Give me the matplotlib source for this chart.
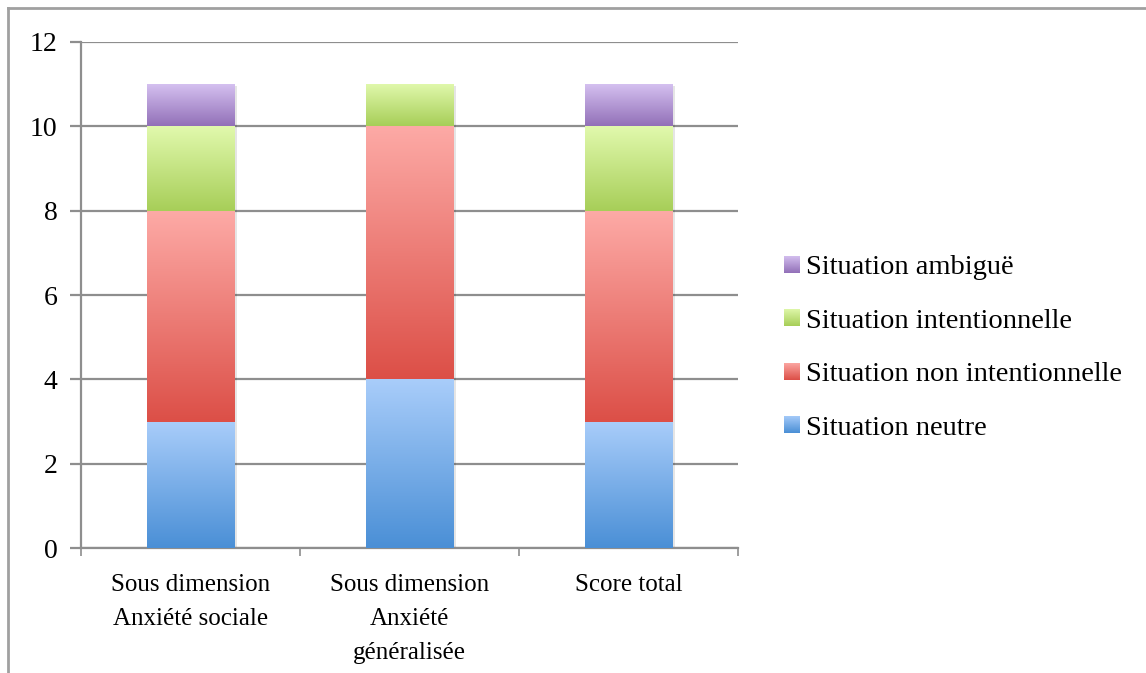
import numpy as np
import matplotlib
matplotlib.use("Agg")
import matplotlib.pyplot as plt
from matplotlib.colors import LinearSegmentedColormap
from matplotlib.patches import Rectangle
from matplotlib.lines import Line2D

categories = ["Sous dimension\nAnxiété sociale", "Sous dimension\nAnxiété\ngénéralisée", "Score total"]
series_names = ["Situation neutre", "Situation non intentionnelle", "Situation intentionnelle", "Situation ambiguë"]
neutre = [3, 4, 3]
non_intentionnelle = [5, 6, 5]
intentionnelle = [2, 1, 2]
ambigue = [1, 0, 1]
yticks = [0, 2, 4, 6, 8, 10, 12]

series = [neutre, non_intentionnelle, intentionnelle, ambigue]
grad = [("#a9cdfa", "#4a8fd6"), ("#fdaaa6", "#dc4f47"), ("#e1f9ad", "#a7ce58"), ("#d6c2f1", "#9270b8")]

plt.rcParams['font.family'] = ['Liberation Serif', 'DejaVu Serif']
fig = plt.figure(figsize=(11.46, 6.73), dpi=100)
ax = fig.add_axes([0.0707, 0.1857, 0.5733, 0.7519])

x = np.arange(len(categories))
width = 0.40
bottom = np.zeros(len(categories))
grid_c = "#8e8e8e"
for vals, (ctop, cbot), name in zip(series, grad, series_names):
    bars = ax.bar(x, vals, width, bottom=bottom, color="none", edgecolor="none", zorder=3, label=name)
    cmap = LinearSegmentedColormap.from_list(name, [cbot, ctop])
    for b in bars:
        h = b.get_height()
        if h <= 0:
            continue
        x0, y0 = b.get_x(), b.get_y()
        w = b.get_width()
        sh = Rectangle((x0 + 0.014, y0 - 0.05), w, h, facecolor="#000000", alpha=0.10, edgecolor="none", zorder=2)
        ax.add_patch(sh)
        img = np.linspace(0, 1, 256).reshape(-1, 1)
        im = ax.imshow(img, cmap=cmap, origin="lower", aspect="auto",
                       extent=(x0, x0 + w, y0, y0 + h), zorder=3)
        im.set_clip_path(b)
    bottom = bottom + np.array(vals)

ax.set_xlim(-0.5, len(categories) - 0.5)
ax.set_ylim(0, 12)
ax.set_yticks(yticks)
ax.yaxis.grid(True, color=grid_c, linewidth=1.6, zorder=0)
ax.set_axisbelow(True)
ax.set_xticks(x)
ax.set_xticklabels(categories, fontsize=18, linespacing=1.68)
ax.set_xticks([-0.5, 0.5, 1.5, 2.5], minor=True)
ax.tick_params(axis="x", which="major", length=0, pad=19)
ax.tick_params(axis="x", which="minor", length=6, width=1.2, color=grid_c, direction="out")
ax.tick_params(axis="y", length=8, width=1.6, color=grid_c, labelsize=20, pad=9)
for s in ["top", "right"]:
    ax.spines[s].set_visible(False)
for s in ["left", "bottom"]:
    ax.spines[s].set_color(grid_c)
    ax.spines[s].set_linewidth(1.6)

handles = []
for (ctop, cbot), name in zip(grad, series_names):
    handles.append(Rectangle((0, 0), 1, 1, facecolor=cbot, edgecolor="none"))
leg = fig.legend(handles[::-1], series_names[::-1], loc="center left",
                 bbox_to_anchor=(0.6615, 0.483), frameon=False, fontsize=20.5,
                 handlelength=0.55, handleheight=0.55, handletextpad=0.25, labelspacing=1.0)

# gradient legend keys
fig.canvas.draw()
inv = fig.transFigure.inverted()
for hp, (ctop, cbot) in zip(leg.legend_handles, grad[::-1]):
    bb = hp.get_window_extent()
    (fx0, fy0), (fx1, fy1) = inv.transform([(bb.x0, bb.y0), (bb.x1, bb.y1)])
    kax = fig.add_axes([fx0, fy0, fx1 - fx0, fy1 - fy0])
    kax.imshow(np.linspace(0, 1, 64).reshape(-1, 1), cmap=LinearSegmentedColormap.from_list("k", [cbot, ctop]),
               origin="lower", aspect="auto")
    kax.axis("off")
    hp.set_visible(False)

# outer frame lines
fig.add_artist(Line2D([8/1146, 8/1146], [0, 1 - 8/673], transform=fig.transFigure, color="#a0a0a0", linewidth=2))
fig.add_artist(Line2D([8/1146, 1], [1 - 8/673, 1 - 8/673], transform=fig.transFigure, color="#a0a0a0", linewidth=2))

fig.savefig("out.png", dpi=100)
